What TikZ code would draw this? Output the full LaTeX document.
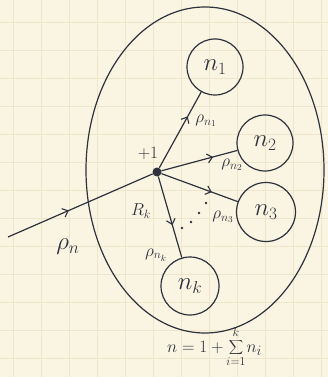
\documentclass[tikz,border=0pt]{standalone}
\usetikzlibrary{decorations.markings,arrows.meta}
\definecolor{paper}{RGB}{250,244,226}
\definecolor{gridc}{RGB}{239,229,203}
\definecolor{ink}{RGB}{45,50,62}
\begin{document}
\begin{tikzpicture}[x=1pt,y=-1pt,
  inkline/.style={draw=ink,line width=1.2pt},
  midarrow/.style={postaction={decorate},decoration={markings,
      mark=at position #1 with {\arrow[ink,line width=1.1pt]{Straight Barb[length=5pt,width=9pt]}}}},
  subtree/.style={circle,draw=ink,line width=1.2pt,minimum size=56pt,inner sep=0pt,
      text=ink,font=\fontsize{26}{28}\selectfont},
  lbl/.style={text=ink,inner sep=0pt,font=\fontsize{18}{20}\selectfont},
  biglbl/.style={text=ink,inner sep=0pt,font=\fontsize{24}{26}\selectfont},
  eqsty/.style={text=ink,inner sep=0pt,font=\fontsize{19}{21}\selectfont},
  limsty/.style={text=ink,inner sep=0pt,font=\fontsize{12}{13}\selectfont},
  dotsty/.style={circle,fill=ink,inner sep=0pt,minimum size=#1}]
% paper
\fill[paper] (0,0) rectangle (328,377);
\useasboundingbox (0,0) rectangle (328,377);
\foreach \x in {13,41,...,328} \draw[gridc,line width=0.5pt] (\x,0) -- (\x,377);
\foreach \y in {22,50,...,377} \draw[gridc,line width=0.5pt] (0,\y) -- (328,\y);
% outer boundary
\draw[inkline] (205,170) ellipse [x radius=119, y radius=163];
% nodes
\node[dotsty=9pt] (root) at (157,172) {};
\node[subtree] (n1) at (215,67) {$n_1$};
\node[subtree] (n2) at (265,143) {$n_2$};
\node[subtree,minimum size=59pt] (n3) at (266,212) {$n_3$};
\node[subtree,minimum size=58pt] (nk) at (190,286) {$n_k$};
\coordinate (in) at (8,237);
% edges
\draw[inkline,midarrow=0.42] (in) -- (root);
\draw[inkline,midarrow=0.68] (root) -- (n1);
\draw[inkline,midarrow=0.68] (root) -- (n2);
\draw[inkline,midarrow=0.66] (root) -- (n3);
\draw[inkline,midarrow=0.6] (root) -- (nk);
% dots
\node[dotsty=2.6pt] (d1) at (182,228) {};
\node[dotsty=2.6pt] (d2) at (191,222) {};
\node[dotsty=2.6pt] (d3) at (199,213) {};
\node[dotsty=2.6pt] (d4) at (206,203) {};
% labels
\node[lbl] (plus) at (148,153) {$+1$};
\node[lbl] (rk) at (141,211) {$R_k$};
\node[lbl] (r1) at (206,121) {$\rho_{n_1}$};
\node[lbl] (r2) at (232,165) {$\rho_{n_2}$};
\node[lbl] (r3) at (223,217) {$\rho_{n_3}$};
\node[lbl] (rnk) at (156,255) {$\rho_{n_k}$};
\node[biglbl] (rn) at (68,247) {$\rho_n$};
% formula
\node[eqsty,anchor=base] (sig) at (236,352) {$\displaystyle\sum$};
\node[eqsty,anchor=base east] (eqa) at ([xshift=-1pt]sig.base west) {$n = 1 + {}$};
\node[eqsty,anchor=base west] (ni) at ([xshift=3pt]sig.base east) {$n_i$};
\node[limsty,anchor=south] (lk) at ([yshift=3pt]sig.north) {$k$};
\node[limsty,anchor=north] (li) at ([yshift=-2pt]sig.south) {$i{=}1$};
\end{tikzpicture}
\end{document}
